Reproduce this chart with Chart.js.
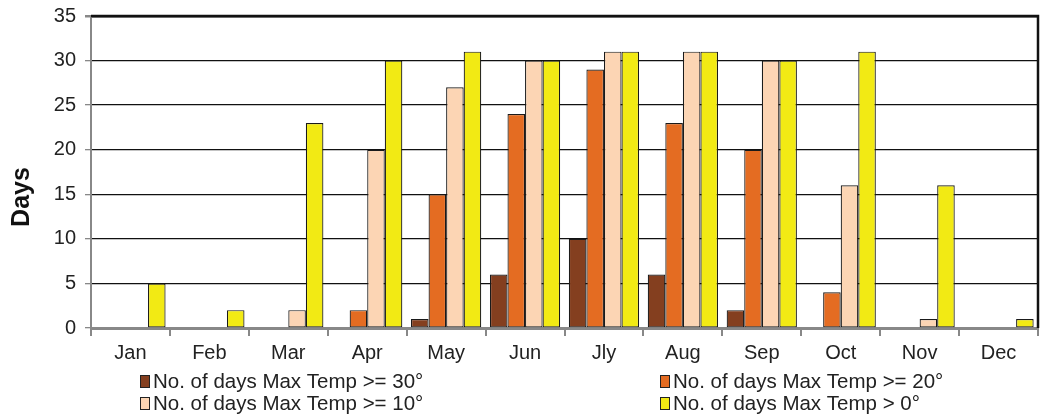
<!DOCTYPE html>
<html lang="en">
<head>
    <meta charset="UTF-8">
    <title>Days by max temperature</title>
    <style>
        body {
            margin: 0;
            padding: 0;
            background-color: #fff;
        }
        #wrap {
            width: 1041px;
            height: 418px;
        }
    </style>
</head>
<body>
    <div id="wrap">
        <canvas id="daysChart" width="1041" height="418"></canvas>
    </div>

    <script src="https://cdn.jsdelivr.net/npm/chart.js"></script>
    <script>
        // data
        const months = ['Jan', 'Feb', 'Mar', 'Apr', 'May', 'Jun', 'Jly', 'Aug', 'Sep', 'Oct', 'Nov', 'Dec'];
        const over30 = [0, 0, 0, 0, 1, 6, 10, 6, 2, 0, 0, 0];
        const over20 = [0, 0, 0, 2, 15, 24, 29, 23, 20, 4, 0, 0];
        const over10 = [0, 0, 2, 20, 27, 30, 31, 31, 30, 16, 1, 0];
        const over0 = [5, 2, 23, 30, 31, 30, 31, 31, 30, 31, 16, 1];
        const seriesNames = [
            'No. of days Max Temp >= 30°',
            'No. of days Max Temp >= 20°',
            'No. of days Max Temp >= 10°',
            'No. of days Max Temp > 0°'
        ];
        const yTicks = [0, 5, 10, 15, 20, 25, 30, 35];
        const yTitle = 'Days';

        const colors = ['#843F1F', '#E46C22', '#FCD5B4', '#F2EA14'];
        const FONT = '"Liberation Sans", Arial, sans-serif';

        // legend in two columns, axis title, plus top/right frame of the plot
        const legendPlugin = {
            id: 'sideLegend',
            afterDraw(chart) {
                const c = chart.ctx;
                const area = chart.chartArea;
                c.save();
                c.strokeStyle = '#111';
                c.lineWidth = 2.5;
                c.beginPath();
                c.moveTo(area.left, area.top);
                c.lineTo(area.right, area.top);
                c.lineTo(area.right, area.bottom);
                c.stroke();

                // y title, sits a bit below the middle like the original
                c.save();
                c.translate(22, 197);
                c.rotate(-Math.PI / 2);
                c.font = 'bold 25px ' + FONT;
                c.fillStyle = '#111';
                c.textAlign = 'center';
                c.textBaseline = 'middle';
                c.fillText(yTitle, 0, 0);
                c.restore();

                const cols = [140, 660];
                const rows = [381, 403];
                c.font = '20.5px ' + FONT;
                c.textBaseline = 'middle';
                chart.data.datasets.forEach((ds, i) => {
                    const x = cols[i % 2];
                    const y = rows[Math.floor(i / 2)];
                    c.fillStyle = ds.backgroundColor;
                    c.fillRect(x, y - 6, 10, 13);
                    c.strokeStyle = '#222';
                    c.lineWidth = 1;
                    c.strokeRect(x + 0.5, y - 5.5, 9, 12);
                    c.fillStyle = '#222';
                    c.fillText(ds.label, x + 13, y + 1);
                });
                c.restore();
            }
        };

        const ctx = document.getElementById('daysChart').getContext('2d');
        new Chart(ctx, {
            type: 'bar',
            data: {
                labels: months,
                datasets: [over30, over20, over10, over0].map((vals, i) => ({
                    label: seriesNames[i],
                    data: vals,
                    backgroundColor: colors[i],
                    borderColor: '#1a1a1a',
                    borderWidth: 1.2,
                    borderSkipped: false,
                    categoryPercentage: 0.89,
                    barPercentage: 1
                }))
            },
            options: {
                responsive: false,
                animation: false,
                layout: {
                    padding: { top: 16, right: 3, bottom: 50, left: 0 }
                },
                plugins: {
                    legend: { display: false },
                    tooltip: { enabled: false }
                },
                scales: {
                    x: {
                        grid: {
                            drawOnChartArea: false,
                            drawTicks: true,
                            tickLength: 8,
                            color: '#888',
                            lineWidth: 2
                        },
                        border: { color: '#888', width: 3 },
                        ticks: {
                            color: '#222',
                            font: { family: FONT, size: 20 },
                            padding: 5
                        },
                        afterFit(scale) { scale.height = 40; }
                    },
                    y: {
                        min: 0,
                        max: 35,
                        afterBuildTicks(scale) {
                            scale.ticks = yTicks.map(v => ({ value: v }));
                        },
                        grid: {
                            color: ctx => ctx.tick && ctx.tick.value === 0 ? '#888' : '#111',
                            lineWidth: ctx => ctx.tick && ctx.tick.value === 35 ? 2.5 : 1.3,
                            tickLength: 6,
                            tickColor: '#888'
                        },
                        border: { color: '#888', width: 2 },
                        ticks: {
                            color: '#222',
                            font: { family: FONT, size: 20 },
                            padding: 9
                        },
                        afterFit(scale) {
                            scale.width = 91;
                            scale.paddingTop = 0;
                        }
                    }
                }
            },
            plugins: [legendPlugin]
        });
    </script>
</body>
</html>
